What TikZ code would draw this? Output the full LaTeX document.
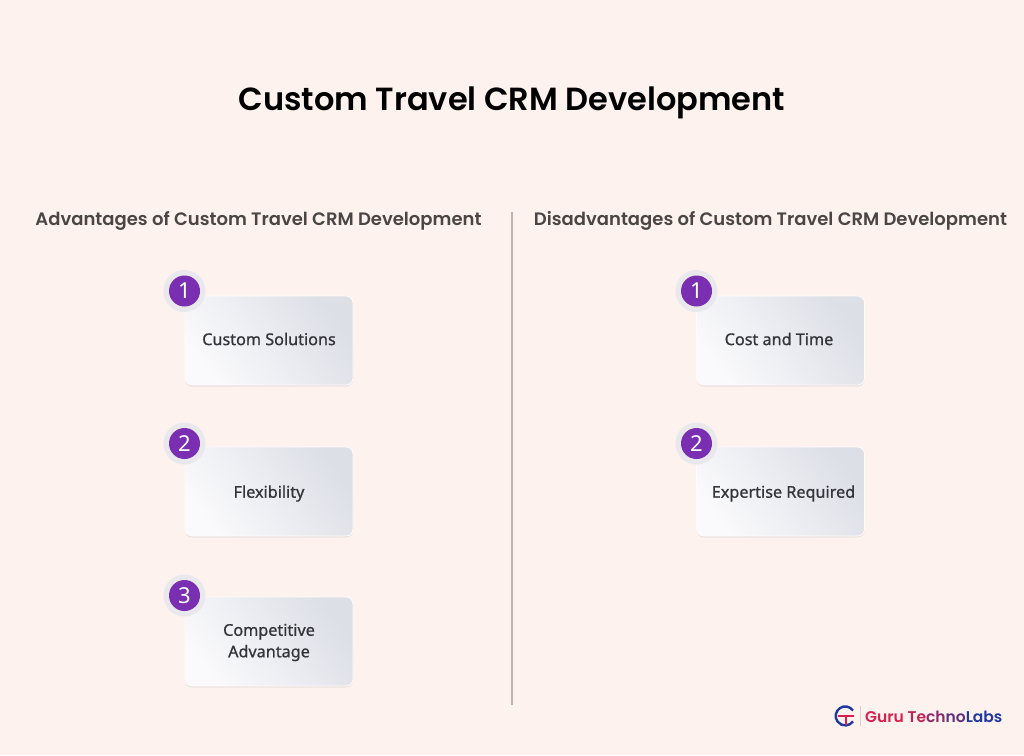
\documentclass[tikz,border=0pt]{standalone}
\usepackage{fontspec}
\setmainfont{Poppins}
\newfontfamily\titlefont{Poppins SemiBold}
\newfontfamily\boxfont[FakeBold=0.9]{Noto Sans}
\newfontfamily\numfont{Noto Sans}
\usetikzlibrary{shadows}
\definecolor{pagebg}{HTML}{FDF2EE}
\definecolor{headgray}{HTML}{4A4644}
\definecolor{boxtext}{HTML}{33353A}
\definecolor{boxlight}{HTML}{FAFAFC}
\definecolor{boxmid}{HTML}{EFF0F4}
\definecolor{boxdark}{HTML}{DDDFE7}
\definecolor{badgepurple}{HTML}{7A2EB2}
\definecolor{badgering}{HTML}{E9E8EC}
\definecolor{rulegray}{HTML}{BDB5B2}
\definecolor{logored}{HTML}{D81F4E}
\definecolor{logomid}{HTML}{8A2A66}
\definecolor{logoblue}{HTML}{1F3A9E}
\tikzset{
  cardbox/.style={rectangle, rounded corners=7pt, minimum width=168pt, minimum height=89pt,
    left color=boxlight, middle color=boxmid, right color=boxdark, shading angle=125, draw=white!70!pagebg, line width=0.8pt,
    drop shadow={shadow xshift=0pt, shadow yshift=-1.5pt, opacity=0.12, fill=black!60}},
  cardtext/.style={text=boxtext, align=center, inner sep=0pt, font=\boxfont\fontsize{16.2}{21.5}\selectfont},
  ringdot/.style={circle, fill=badgering, minimum size=42pt, inner sep=0pt},
  numdot/.style={circle, fill=badgepurple, text=white, minimum size=31pt, inner sep=0pt,
    font=\numfont\fontsize{22}{22}\selectfont},
  sidehead/.style={text=headgray, font=\titlefont\fontsize{18}{21}\selectfont, inner sep=0pt}
}
\begin{document}
\begin{tikzpicture}[x=1pt,y=-1pt]
  \fill [pagebg] (0,0) rectangle (1024,755);
  \useasboundingbox (0,0) rectangle (1024,755);
  \node [text=black, inner sep=0pt, font=\titlefont\fontsize{32}{38}\selectfont] (title) at (512,102.5) {Custom Travel CRM Development};
  \node [sidehead] (advhead) at (258.5,221) {Advantages of Custom Travel CRM Development};
  \node [sidehead] (dishead) at (770.5,221) {Disadvantages of Custom Travel CRM Development};
  % divider
  \coordinate (ruletop) at (512,212);
  \coordinate (rulebot) at (512,705);
  \draw [rulegray, line width=1.5pt] (ruletop) -- (rulebot);
  % left column
  \node [cardbox] (adv1) at (269,340.5) {};
  \node [cardtext] (adv1text) at (269,339) {Custom Solutions};
  \node [cardbox] (adv2) at (269,491.5) {};
  \node [cardtext] (adv2text) at (269,493.5) {Flexibility};
  \node [cardbox] (adv3) at (269,641.5) {};
  \node [cardtext] (adv3text) at (269,642.5) {Competitive\\Advantage};
  \node [ringdot] (advring1) at (184.5,291) {};
  \node [numdot] (advnum1) at (advring1) {1};
  \node [ringdot] (advring2) at (184.5,443.5) {};
  \node [numdot] (advnum2) at (advring2) {2};
  \node [ringdot] (advring3) at (184.5,595.5) {};
  \node [numdot] (advnum3) at (advring3) {3};
  % right column
  \node [cardbox] (dis1) at (780.5,340.5) {};
  \node [cardtext] (dis1text) at (779,339) {Cost and Time};
  \node [cardbox] (dis2) at (780.5,491.5) {};
  \node [cardtext] (dis2text) at (783.5,493.5) {Expertise Required};
  \node [ringdot] (disring1) at (696.5,291) {};
  \node [numdot] (disnum1) at (disring1) {1};
  \node [ringdot] (disring2) at (696.5,443.5) {};
  \node [numdot] (disnum2) at (disring2) {2};
  % logo
  \draw [logoblue, line width=2.4pt] (853,710.5) arc (-35:-325:9.5);
  \draw [logored, line width=2.2pt] (838,716) -- (854,716);
  \draw [logored, line width=2.2pt] (846,716) -- (846,725);
  \draw [rulegray!60, line width=0.6pt] (860.5,706) -- (860.5,726);
  \node [anchor=west, inner sep=0pt, font=\titlefont\fontsize{15.5}{17}\selectfont] (logotext) at (865,716.5)
    {\textcolor{logored}{Guru} \textcolor{logored!70!logomid}{Te}\textcolor{logomid}{ch}\textcolor{logomid!60!logoblue}{no}\textcolor{logoblue}{Labs}};
\end{tikzpicture}
\end{document}
